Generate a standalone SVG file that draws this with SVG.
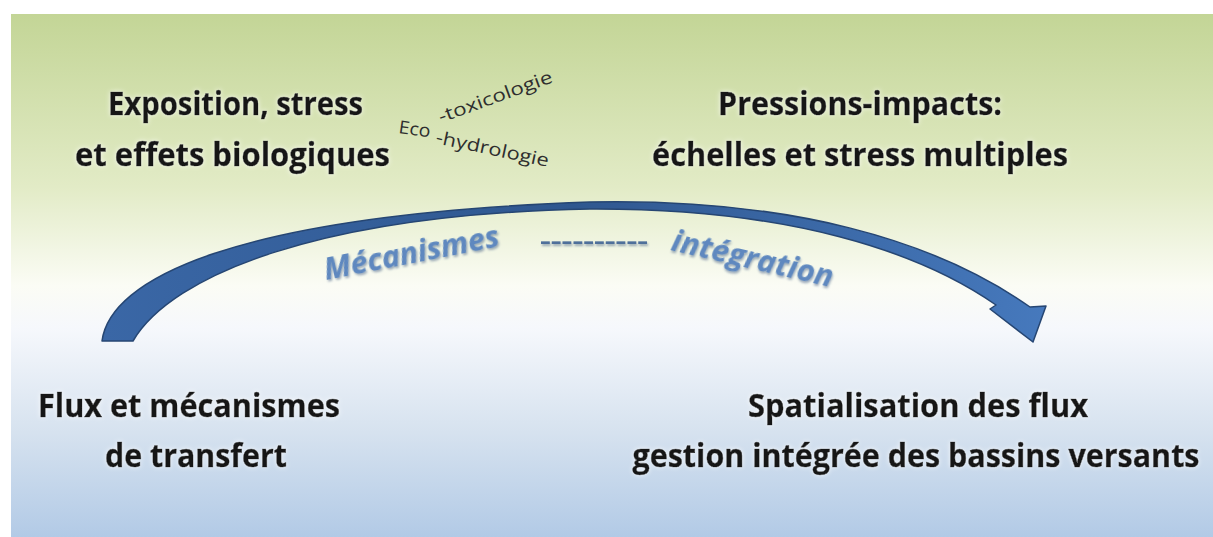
<svg xmlns="http://www.w3.org/2000/svg" width="1213" height="537" viewBox="0 0 1213 537">
  <defs>
    <linearGradient id="bg" x1="0" y1="0" x2="0" y2="1">
      <stop offset="0" stop-color="#c3d596"/>
      <stop offset="0.33" stop-color="#e2ebc6"/>
      <stop offset="0.52" stop-color="#fbfcf5"/>
      <stop offset="0.6" stop-color="#f6f8fc"/>
      <stop offset="0.8" stop-color="#d6e2ef"/>
      <stop offset="1" stop-color="#b2cae6"/>
    </linearGradient>
    <linearGradient id="arrowFill" x1="0" y1="0" x2="1" y2="0">
      <stop offset="0" stop-color="#3a67a6"/>
      <stop offset="0.5" stop-color="#2f578f"/>
      <stop offset="1" stop-color="#4679bd"/>
    </linearGradient>
    <filter id="halo" x="-5%" y="-30%" width="110%" height="160%">
      <feGaussianBlur in="SourceAlpha" stdDeviation="2.5" result="b"/>
      <feFlood flood-color="#ffffff" flood-opacity="0.8"/>
      <feComposite in2="b" operator="in" result="w"/>
      <feMerge><feMergeNode in="w"/><feMergeNode in="SourceGraphic"/></feMerge>
    </filter>
    <filter id="soft" x="-10%" y="-30%" width="120%" height="160%">
      <feGaussianBlur in="SourceAlpha" stdDeviation="1.2" result="b"/>
      <feOffset dx="1" dy="1.5" in="b" result="o"/>
      <feFlood flood-color="#2c4a78" flood-opacity="0.45"/>
      <feComposite in2="o" operator="in" result="s"/>
      <feMerge><feMergeNode in="s"/><feMergeNode in="SourceGraphic"/></feMerge>
    </filter>
  </defs>
  <style>
    .main { font-family: "Open Sans", "Liberation Sans", sans-serif; font-weight: 700; font-size: 33px; fill: #141414; stroke: #141414; stroke-width: 0.5; }
    .eco { font-family: "Open Sans", "Liberation Sans", sans-serif; font-size: 18px; fill: #2e2e2e; }
    .lbl { font-family: "Open Sans", "Liberation Sans", sans-serif; font-weight: 700; font-style: italic; font-size: 30px; fill: #5e88bf; }
  </style>
  <rect x="11" y="14" width="1202" height="523" fill="url(#bg)"/>

  <g id="connectors">
    <path d="M102,341 C110,280 230,215 590,202 C790,198 935,240 1030,307 L1046,306 L1033,342 L990,309 L996,305 C920,252 790,208 590,209 C320,214 172,275 133,341 Z" fill="url(#arrowFill)" stroke="#264673" stroke-width="1.5" stroke-linejoin="round"/>
    <text class="lbl" filter="url(#soft)" transform="translate(326,280) rotate(-11)" textLength="178" lengthAdjust="spacingAndGlyphs">Mécanismes</text>
    <text class="lbl" filter="url(#soft)" transform="translate(540,248)" textLength="108" lengthAdjust="spacingAndGlyphs" style="font-style:normal;fill:#4f6f9a;font-size:22px">----------</text>
    <text class="lbl" filter="url(#soft)" transform="translate(670,250) rotate(13)" textLength="165" lengthAdjust="spacingAndGlyphs">intégration</text>
  </g>

  <g id="node-exposition" filter="url(#halo)">
    <text class="main" x="108" y="115" textLength="255" lengthAdjust="spacingAndGlyphs">Exposition, stress</text>
    <text class="main" x="75" y="166" textLength="315" lengthAdjust="spacingAndGlyphs">et effets biologiques</text>
  </g>

  <g id="node-eco">
    <text class="eco" transform="translate(398,133) rotate(8)" textLength="32" lengthAdjust="spacingAndGlyphs">Eco</text>
    <text class="eco" transform="translate(441,123) rotate(-20)" textLength="120" lengthAdjust="spacingAndGlyphs">-toxicologie</text>
    <text class="eco" transform="translate(435,143) rotate(12)" textLength="115" lengthAdjust="spacingAndGlyphs">-hydrologie</text>
  </g>

  <g id="node-pressions" filter="url(#halo)">
    <text class="main" x="718" y="115" textLength="284" lengthAdjust="spacingAndGlyphs">Pressions-impacts:</text>
    <text class="main" x="652" y="166" textLength="416" lengthAdjust="spacingAndGlyphs">échelles et stress multiples</text>
  </g>

  <g id="node-flux" filter="url(#halo)">
    <text class="main" x="38" y="417" textLength="302" lengthAdjust="spacingAndGlyphs">Flux et mécanismes</text>
    <text class="main" x="105" y="467" textLength="182" lengthAdjust="spacingAndGlyphs">de transfert</text>
  </g>

  <g id="node-spatialisation" filter="url(#halo)">
    <text class="main" x="918" y="417" text-anchor="middle" textLength="340" lengthAdjust="spacingAndGlyphs">Spatialisation des flux</text>
    <text class="main" transform="translate(916,467) scale(1,1.22)" x="0" y="0" text-anchor="middle" textLength="567" lengthAdjust="spacingAndGlyphs" style="font-size:27px;stroke-width:0.45">gestion intégrée des bassins versants</text>
  </g>
</svg>
